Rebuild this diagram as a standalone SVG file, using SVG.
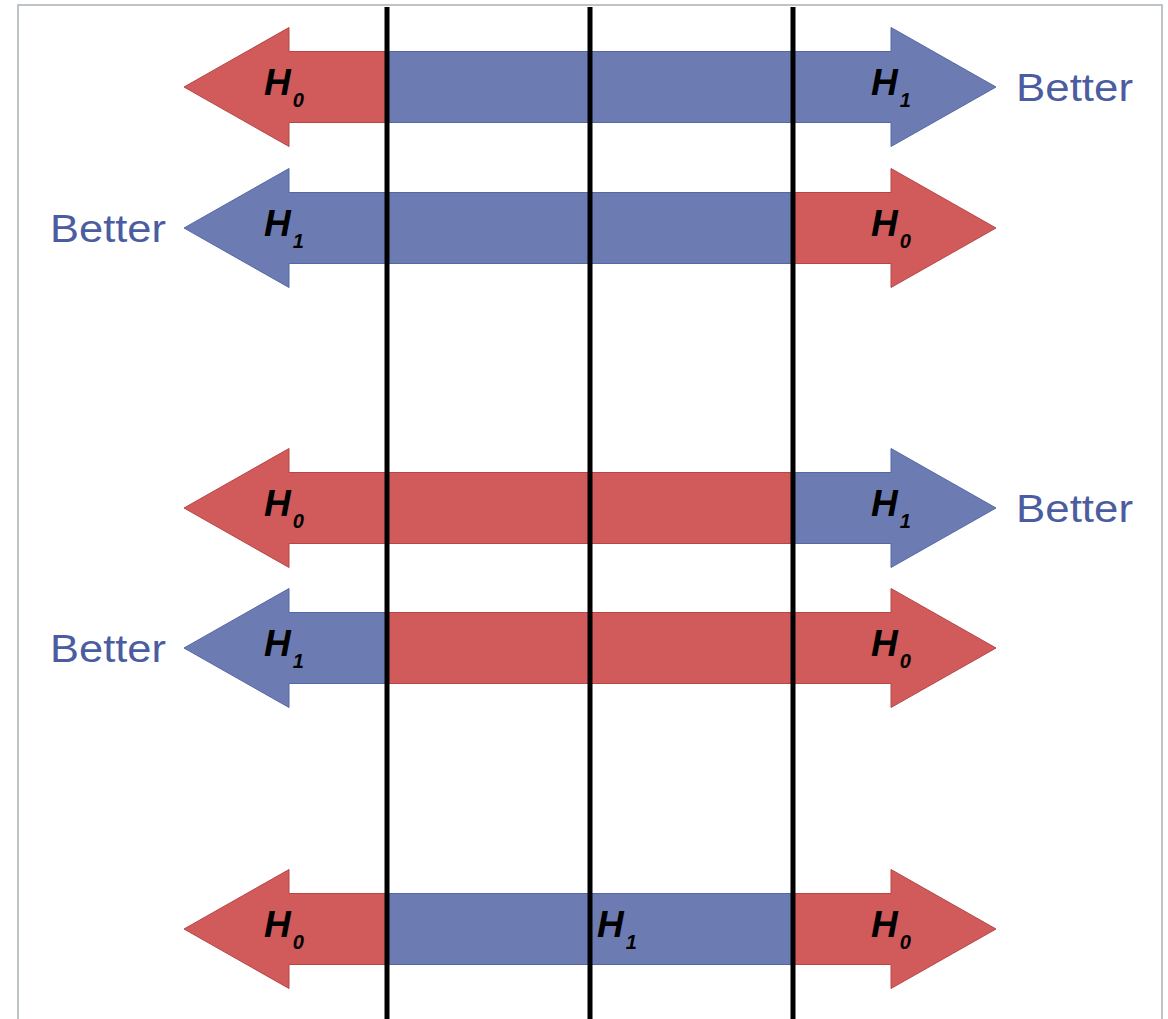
<svg xmlns="http://www.w3.org/2000/svg" width="1168" height="1019" viewBox="0 0 1168 1019">
<style>
.red{fill:#D15A5A;stroke:#B84646;stroke-width:1}
.blue{fill:#6C7CB3;stroke:#5568A6;stroke-width:1}
.h{font-family:"Liberation Sans",Arial,sans-serif;font-weight:bold;font-style:italic;font-size:37px;fill:#000}
.sub{font-size:20px}
.better{font-family:"Liberation Sans",Arial,sans-serif;font-size:39px;fill:#4B5CA0}
.vline{stroke:#000;stroke-width:5}
</style>
<rect x="0" y="0" width="1168" height="1019" fill="#fff"/>
<rect x="18" y="5" width="1144" height="1030" fill="#fff" stroke="#A9B0B6" stroke-width="1.5"/>
<g id="arrow1" transform="translate(0,87)">
<path class="red" d="M184,0 L289,-59.5 L289,-35.5 L387,-35.5 L387,35.5 L289,35.5 L289,59.5 Z"/>
<path class="blue" d="M387,-35.5 L891,-35.5 L891,-59.5 L996,0 L891,59.5 L891,35.5 L387,35.5 Z"/>
<text class="h" x="264" y="8">H<tspan class="sub" dx="2" dy="12">0</tspan></text>
<text class="h" x="871" y="8">H<tspan class="sub" dx="2" dy="12">1</tspan></text>
<text class="better" x="1016" y="14" textLength="117" lengthAdjust="spacingAndGlyphs">Better</text>
</g>
<g id="arrow2" transform="translate(0,228)">
<path class="blue" d="M184,0 L289,-59.5 L289,-35.5 L793,-35.5 L793,35.5 L289,35.5 L289,59.5 Z"/>
<path class="red" d="M793,-35.5 L891,-35.5 L891,-59.5 L996,0 L891,59.5 L891,35.5 L793,35.5 Z"/>
<text class="h" x="264" y="8">H<tspan class="sub" dx="2" dy="12">1</tspan></text>
<text class="h" x="871" y="8">H<tspan class="sub" dx="2" dy="12">0</tspan></text>
<text class="better" x="50" y="14" textLength="116" lengthAdjust="spacingAndGlyphs">Better</text>
</g>
<g id="arrow3" transform="translate(0,508)">
<path class="red" d="M184,0 L289,-59.5 L289,-35.5 L793,-35.5 L793,35.5 L289,35.5 L289,59.5 Z"/>
<path class="blue" d="M793,-35.5 L891,-35.5 L891,-59.5 L996,0 L891,59.5 L891,35.5 L793,35.5 Z"/>
<text class="h" x="264" y="8">H<tspan class="sub" dx="2" dy="12">0</tspan></text>
<text class="h" x="871" y="8">H<tspan class="sub" dx="2" dy="12">1</tspan></text>
<text class="better" x="1016" y="14" textLength="117" lengthAdjust="spacingAndGlyphs">Better</text>
</g>
<g id="arrow4" transform="translate(0,648)">
<path class="blue" d="M184,0 L289,-59.5 L289,-35.5 L387,-35.5 L387,35.5 L289,35.5 L289,59.5 Z"/>
<path class="red" d="M387,-35.5 L891,-35.5 L891,-59.5 L996,0 L891,59.5 L891,35.5 L387,35.5 Z"/>
<text class="h" x="264" y="8">H<tspan class="sub" dx="2" dy="12">1</tspan></text>
<text class="h" x="871" y="8">H<tspan class="sub" dx="2" dy="12">0</tspan></text>
<text class="better" x="50" y="14" textLength="116" lengthAdjust="spacingAndGlyphs">Better</text>
</g>
<g id="arrow5" transform="translate(0,929)">
<path class="red" d="M184,0 L289,-59.5 L289,-35.5 L387,-35.5 L387,35.5 L289,35.5 L289,59.5 Z"/>
<rect class="blue" x="387" y="-35.5" width="406" height="71"/>
<path class="red" d="M793,-35.5 L891,-35.5 L891,-59.5 L996,0 L891,59.5 L891,35.5 L793,35.5 Z"/>
<text class="h" x="264" y="8">H<tspan class="sub" dx="2" dy="12">0</tspan></text>
<text class="h" x="597" y="8">H<tspan class="sub" dx="2" dy="12">1</tspan></text>
<text class="h" x="871" y="8">H<tspan class="sub" dx="2" dy="12">0</tspan></text>
</g>
<g id="connectors">
<line class="vline" x1="387" y1="7" x2="387" y2="1019"/>
<line class="vline" x1="590" y1="7" x2="590" y2="1019"/>
<line class="vline" x1="793" y1="7" x2="793" y2="1019"/>
</g>
</svg>
